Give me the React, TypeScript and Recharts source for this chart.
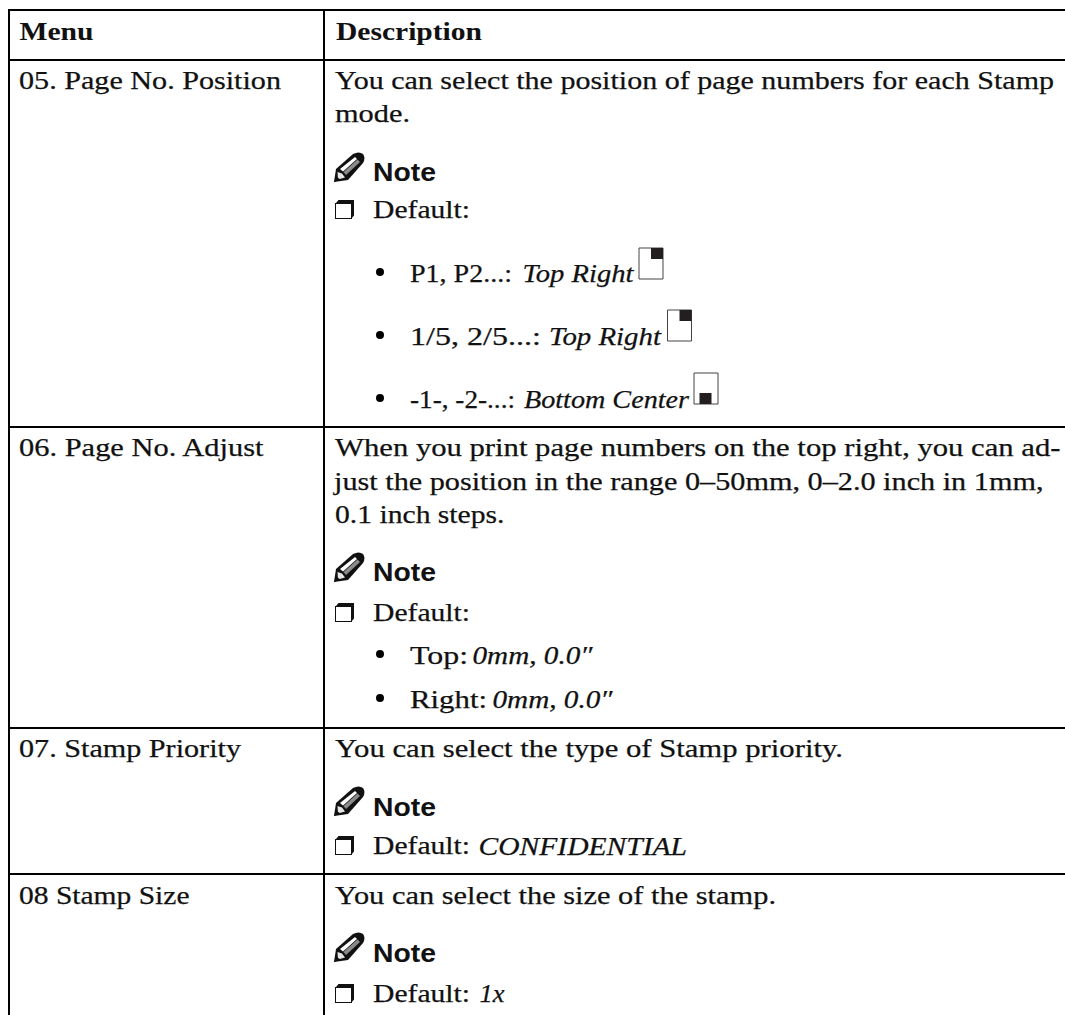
import React from "react";
import { ComposedChart, Scatter, XAxis, YAxis, ReferenceLine, ReferenceDot, ReferenceArea } from "recharts";

const WIDTH = 1065;
const HEIGHT = 1015;
const SERIF = "'Liberation Serif', serif";
const SANS = "'Liberation Sans', sans-serif";
const INK = "#111111";

// table text
const headers = ["Menu", "Description"];
const menuItems = ["05. Page No. Position", "06. Page No. Adjust", "07. Stamp Priority", "08 Stamp Size"];
const descriptionLines = [
  "You can select the position of page numbers for each Stamp",
  "mode.",
  "When you print page numbers on the top right, you can ad-",
  "just the position in the range 0–50mm, 0–2.0 inch in 1mm,",
  "0.1 inch steps.",
  "You can select the type of Stamp priority.",
  "You can select the size of the stamp.",
];
const defaultLabels = ["Default:", "Default:", "Default:", "Default:"];
const defaultValues = ["CONFIDENTIAL", "1x"];
const bulletLabels = ["P1, P2...:", "1/5, 2/5...:", "-1-, -2-...:", "Top:", "Right:"];
const bulletValues = ["Top Right", "Top Right", "Bottom Center", "0mm, 0.0″", "0mm, 0.0″"];

// placement, in page pixels: [x, baseline, width]
const headerBoxes = [[19.5, 40, 74], [336, 40, 146]];
const menuBoxes = [[19, 89, 262], [19, 456, 244.5], [19, 757, 222], [19, 904, 170.5]];
const descriptionBoxes = [
  [335, 89, 719],
  [335, 122, 75],
  [335, 456, 725.5],
  [334, 490, 709.5],
  [335, 523, 169.5],
  [335, 757, 508],
  [335, 904, 441],
];
const defaultBoxes = [[373, 218, 97], [373, 621, 97], [373, 854, 97], [373, 1002, 97]];
const defaultValueBoxes = [[478.5, 855, 208.5], [479.5, 1002, 25]];
const bulletLabelBoxes = [[410, 282, 102], [410, 345, 131], [410, 408, 105], [410, 664, 58], [410, 708, 77]];
const bulletValueBoxes = [[522.5, 282, 111], [549, 345, 112], [524, 408, 165], [472.5, 664, 120], [492.5, 708, 120]];
const bulletYs = [272, 335, 398, 654, 698];
const noteBoxes = [[373, 181, 63], [373, 581, 63], [373, 816, 63], [373, 962, 63]];
const noteIconTops = [153, 553, 787, 933];
const ruleYs = [10, 60, 427, 728, 874];
const ruleXs = [9, 324];

// page thumbnails: [left, top, mark left, mark top]
const pageIcons = [
  [639, 248, 651, 248],
  [667.5, 310, 679.5, 310],
  [694, 373, 699.5, 393],
];
const ICON_W = 24;
const ICON_H = 31;
const MARK_W = 12;
const MARK_H = 11;

const bulletRows = bulletYs.map((y) => ({ x: 380, y }));

function textShape(text: string, width: number, family: string, size: number, weight: string, style: string) {
  return (p: any) => (
    <text
      x={p.cx}
      y={p.cy}
      fontFamily={family}
      fontSize={size}
      fontWeight={weight}
      fontStyle={style}
      fill={INK}
      stroke={weight === "normal" ? INK : "none"}
      strokeWidth={weight === "normal" ? 0.25 : 0}
      textLength={width}
      lengthAdjust="spacingAndGlyphs"
    >
      {text}
    </text>
  );
}

function placeText(
  texts: string[],
  boxes: number[][],
  key: string,
  family = SERIF,
  size = 26,
  weight = "normal",
  style = "normal",
) {
  return texts.map((t, i) => (
    <ReferenceDot
      key={`${key}-${i}`}
      x={boxes[i][0]}
      y={boxes[i][1]}
      r={0}
      shape={textShape(t, boxes[i][2], family, size, weight, style)}
    />
  ));
}

function NoteIcon(p: any) {
  return (
    <g transform={`translate(${p.cx - 1} ${p.cy})`}>
      <path d="M0 29 L2 16 L19 1 Q25 -2 29 1 Q32 5 29 10 L14 27 Z" fill="#111" />
      <path d="M6 16 L21 4 L23 6 L9 18.5 Z" fill="#fff" />
      <path d="M9.5 19 L23.5 6.5 L26 9 L12 22 Z" fill="#8a8a8a" />
      <path d="M3.5 19 L8 20.5 L11 24.5 L4 26.5 Z" fill="#e6e6e6" />
      <path d="M0 29 L2 23.5 L6.5 26.5 Z" fill="#111" />
    </g>
  );
}

function CheckBox(p: any) {
  return (
    <g transform={`translate(${p.cx} ${p.cy})`}>
      <rect x={0.5} y={3.5} width={16} height={15} fill="#fff" stroke={INK} strokeWidth={1} />
      <path d="M1 3 L3.5 0 H19 V15.5 L16.5 18.5 V3 Z" fill={INK} />
    </g>
  );
}

function BulletDot(p: any) {
  return <circle cx={p.cx} cy={p.cy} r={4} fill="#000" />;
}

export default function App() {
  return (
    <div style={{ position: "absolute", left: 0, top: 0, width: WIDTH, height: HEIGHT, background: "#fff" }}>
      <ComposedChart width={WIDTH} height={HEIGHT} data={bulletRows} margin={{ top: 0, right: 0, bottom: 0, left: 0 }}>
        <XAxis type="number" dataKey="x" domain={[0, WIDTH]} allowDataOverflow hide />
        <YAxis type="number" dataKey="y" domain={[0, HEIGHT]} allowDataOverflow reversed hide />

        {/* table rules */}
        {ruleYs.map((y) => (
          <ReferenceLine key={`h-${y}`} segment={[{ x: 8, y }, { x: WIDTH, y }]} stroke="#000" strokeWidth={2} />
        ))}
        {ruleXs.map((x) => (
          <ReferenceLine key={`v-${x}`} segment={[{ x, y: 9 }, { x, y: HEIGHT }]} stroke="#000" strokeWidth={2} />
        ))}

        {placeText(headers, headerBoxes, "head", SERIF, 26, "bold")}
        {placeText(menuItems, menuBoxes, "menu")}
        {placeText(descriptionLines, descriptionBoxes, "desc")}

        {/* note blocks */}
        {noteIconTops.map((y, i) => (
          <ReferenceDot key={`icon-${i}`} x={335} y={y} r={0} shape={NoteIcon} />
        ))}
        {placeText(["Note", "Note", "Note", "Note"], noteBoxes, "note", SANS, 26, "bold")}
        {defaultBoxes.map((b, i) => (
          <ReferenceDot key={`check-${i}`} x={335} y={b[1] - 18} r={0} shape={CheckBox} />
        ))}
        {placeText(defaultLabels, defaultBoxes, "def")}
        {placeText(defaultValues, defaultValueBoxes, "defval", SERIF, 26, "normal", "italic")}

        {/* bullet lines */}
        <Scatter data={bulletRows} dataKey="y" shape={BulletDot} isAnimationActive={false} />
        {placeText(bulletLabels, bulletLabelBoxes, "bl")}
        {placeText(bulletValues, bulletValueBoxes, "bv", SERIF, 26, "normal", "italic")}

        {/* page position thumbnails */}
        {pageIcons.map(([l, t, ml, mt], i) => (
          <React.Fragment key={`page-${i}`}>
            <ReferenceArea x1={l} x2={l + ICON_W} y1={t} y2={t + ICON_H} fill="#fff" fillOpacity={1} stroke="#444" strokeWidth={1} />
            <ReferenceArea x1={ml} x2={ml + MARK_W} y1={mt} y2={mt + MARK_H} fill="#231f20" fillOpacity={1} stroke="none" />
          </React.Fragment>
        ))}
      </ComposedChart>
    </div>
  );
}
